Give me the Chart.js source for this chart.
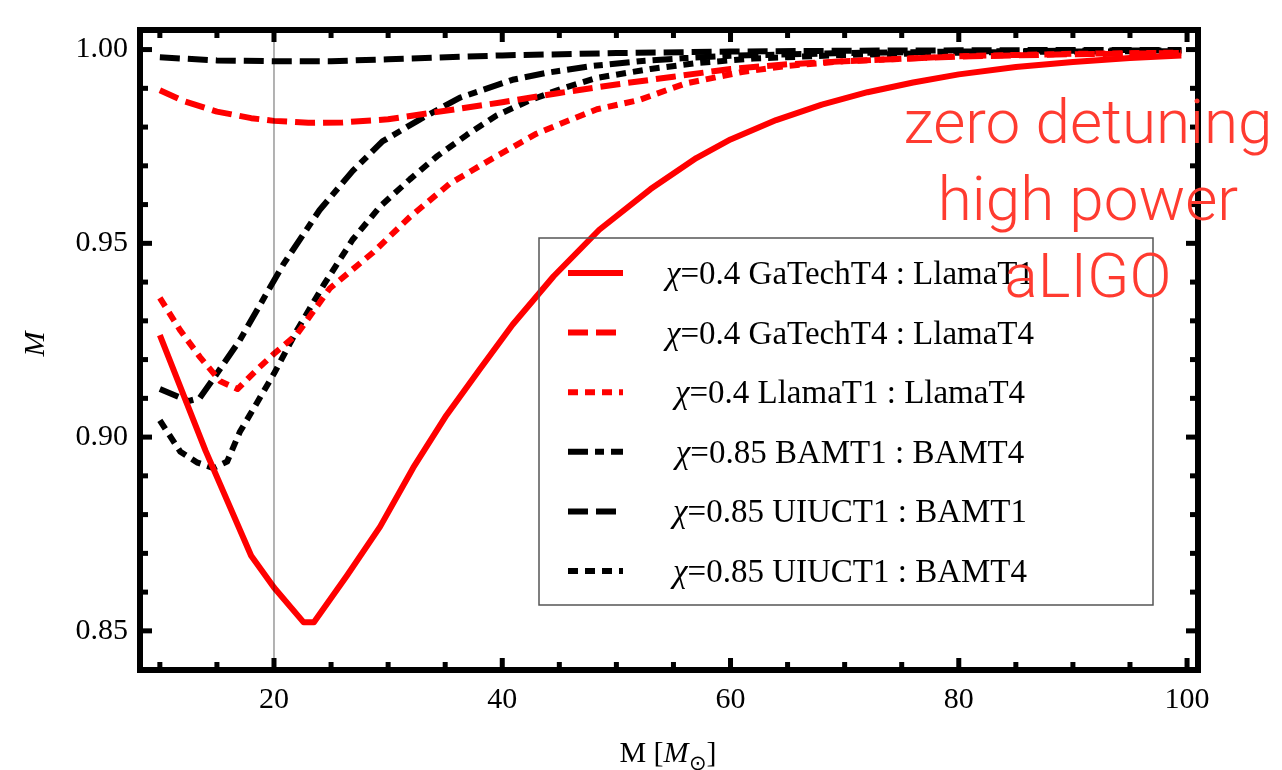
<!DOCTYPE html>
<html>
<head>
<meta charset="utf-8">
<script src="https://cdn.jsdelivr.net/npm/chart.js@4.4.1/dist/chart.umd.min.js"></script>
<style>
  html, body { margin: 0; padding: 0; background: #fff; }
</style>
</head>
<body>
<canvas id="chart-match" width="1282" height="770"></canvas>
<script>
// Match vs total mass for the approximant pairs
const spins = ['0.4', '0.4', '0.4', '0.85', '0.85', '0.85'];
const pairs = [
    'GaTechT4 : LlamaT1',
    'GaTechT4 : LlamaT4',
    'LlamaT1 : LlamaT4',
    'BAMT1 : BAMT4',
    'UIUCT1 : BAMT1',
    'UIUCT1 : BAMT4',
];

const gtL1Mass = [10, 14, 18, 20, 22.6, 23.5, 26.4, 29.3, 32.2, 35.1, 38, 40.9, 44.5, 48.5, 53, 57, 60, 64, 68, 72, 76, 80, 85, 90, 95, 99.5];
const gtL1Match = [0.9263, 0.8965, 0.8694, 0.8612, 0.8522, 0.8522, 0.8643, 0.8769, 0.8921, 0.9056, 0.9174, 0.929, 0.9415, 0.9535, 0.964, 0.972, 0.9768, 0.9818, 0.9858, 0.989, 0.9915, 0.9936, 0.9955, 0.9968, 0.9978, 0.9985];

const gtL4Mass = [10, 12, 15, 18, 20, 23, 26, 30, 35, 40, 45, 50, 55, 60, 65, 70, 80, 90, 99.5];
const gtL4Match = [0.9895, 0.9868, 0.984, 0.9823, 0.9816, 0.9811, 0.9812, 0.982, 0.9842, 0.9864, 0.9888, 0.991, 0.993, 0.995, 0.9962, 0.997, 0.9982, 0.9988, 0.9991];

const l1L4Mass = [10, 11.8, 13.5, 15.3, 16.8, 18.5, 20, 22, 24.9, 28.7, 31.9, 35.4, 39.2, 43, 45.9, 48.3, 52, 56, 61, 65, 70, 80, 90, 99.5];
const l1L4Match = [0.9359, 0.9275, 0.9207, 0.9144, 0.9124, 0.9174, 0.9215, 0.9265, 0.9384, 0.9477, 0.9568, 0.9654, 0.972, 0.9783, 0.9818, 0.9846, 0.987, 0.9912, 0.9942, 0.9958, 0.997, 0.9983, 0.9989, 0.9992];

const bamMass = [10, 12.5, 13.5, 15, 17, 20.8, 24, 26.9, 29.5, 32.8, 36.3, 40.9, 43.9, 48, 52, 56, 60, 70, 80, 90, 99.5];
const bamMatch = [0.9124, 0.9093, 0.9101, 0.9164, 0.925, 0.9445, 0.9586, 0.9687, 0.9763, 0.982, 0.9876, 0.9922, 0.994, 0.9958, 0.997, 0.9978, 0.9984, 0.9991, 0.9995, 0.9997, 0.9998];

const uiucT1Mass = [10, 15, 20, 25, 30, 40, 50, 60, 70, 80, 90, 99.5];
const uiucT1Match = [0.998, 0.9972, 0.997, 0.997, 0.9975, 0.9985, 0.9991, 0.9995, 0.9997, 0.9998, 0.9999, 0.9999];

const uiucT4Mass = [10, 11.8, 13.3, 14.7, 15.9, 17, 18.5, 20, 22, 24.3, 26.9, 29.3, 31.9, 34.3, 36.9, 39.5, 42.4, 45.3, 48.3, 53, 57, 62, 70, 80, 90, 99.5];
const uiucT4Match = [0.9043, 0.8962, 0.8934, 0.892, 0.8937, 0.9013, 0.9088, 0.9164, 0.9275, 0.939, 0.951, 0.9595, 0.9665, 0.9725, 0.978, 0.983, 0.9869, 0.99, 0.9927, 0.995, 0.9965, 0.9977, 0.9986, 0.9992, 0.9995, 0.9996];

const xTicks = [20, 40, 60, 80, 100];
const yTicks = [0.85, 0.90, 0.95, 1.00];
const refMass = 20;
const noteLines = ['zero detuning', 'high power', 'aLIGO'];

const SERIF = '"Liberation Serif", "Times New Roman", serif';
const RED = '#ff0000';

const series = [
    { mass: gtL1Mass, match: gtL1Match, color: RED, dash: [] },
    { mass: gtL4Mass, match: gtL4Match, color: RED, dash: [20, 8] },
    { mass: l1L4Mass, match: l1L4Match, color: RED, dash: [10, 7] },
    { mass: bamMass, match: bamMatch, color: '#000', dash: [20, 7, 9, 7] },
    { mass: uiucT1Mass, match: uiucT1Match, color: '#000', dash: [20, 8] },
    { mass: uiucT4Mass, match: uiucT4Match, color: '#000', dash: [10, 7] },
];

const datasets = series.map((s, i) => ({
    label: 'χ=' + spins[i] + ' ' + pairs[i],
    data: s.mass.map((m, k) => ({ x: m, y: s.match[k] })),
    borderColor: s.color,
    borderDash: s.dash,
    borderWidth: 6,
    borderCapStyle: 'butt',
    borderJoinStyle: 'round',
    pointRadius: 0,
    tension: 0,
    fill: false,
}));

// Mathematica-style frame: thick box, inward ticks on all four sides
const framePlugin = {
    id: 'frame',
    afterDatasetsDraw(chart) {
        const { ctx, chartArea: a, scales: { x, y } } = chart;
        ctx.save();

        // reference mass line
        const rx = x.getPixelForValue(refMass);
        ctx.strokeStyle = 'rgba(0,0,0,0.5)';
        ctx.lineWidth = 1.2;
        ctx.beginPath();
        ctx.moveTo(rx, a.top);
        ctx.lineTo(rx, a.bottom);
        ctx.stroke();

        ctx.fillStyle = '#000';
        for (let m = 10; m <= 100; m += 5) {
            const px = x.getPixelForValue(m);
            const len = xTicks.includes(m) ? 12 : 8;
            ctx.fillRect(px - 2.5, a.bottom - len, 5, len);
            ctx.fillRect(px - 2.5, a.top, 5, len);
        }
        for (let k = 84; k <= 100; k++) {
            const v = k / 100;
            const py = y.getPixelForValue(v);
            const len = k % 5 === 0 ? 12 : 8;
            ctx.fillRect(a.left, py - 2.5, len, 5);
            ctx.fillRect(a.right - len, py - 2.5, len, 5);
        }

        ctx.strokeStyle = '#000';
        ctx.lineWidth = 6;
        ctx.strokeRect(a.left, a.top, a.right - a.left, a.bottom - a.top);
        ctx.restore();
    },
};

// Boxed legend with centred labels
const legendPlugin = {
    id: 'boxLegend',
    afterDraw(chart) {
        const { ctx } = chart;
        const box = { left: 539, top: 238, right: 1153, bottom: 605 };
        ctx.save();
        ctx.strokeStyle = '#555';
        ctx.lineWidth = 1.5;
        ctx.strokeRect(box.left, box.top, box.right - box.left, box.bottom - box.top);

        chart.data.datasets.forEach((ds, i) => {
            const cy = 273 + i * 59.6;
            ctx.strokeStyle = ds.borderColor;
            ctx.lineWidth = 6;
            ctx.lineCap = 'butt';
            ctx.setLineDash(ds.borderDash);
            ctx.beginPath();
            ctx.moveTo(568, cy);
            ctx.lineTo(623, cy);
            ctx.stroke();
            ctx.setLineDash([]);

            const chi = 'χ';
            const rest = '=' + spins[i] + ' ' + pairs[i];
            ctx.fillStyle = '#000';
            ctx.textBaseline = 'alphabetic';
            ctx.font = 'italic 33px ' + SERIF;
            const wChi = ctx.measureText(chi).width;
            ctx.font = '33px ' + SERIF;
            const wRest = ctx.measureText(rest).width;
            const tx = 850 - (wChi + wRest) / 2;
            ctx.font = 'italic 33px ' + SERIF;
            ctx.fillText(chi, tx, cy + 11);
            ctx.font = '33px ' + SERIF;
            ctx.fillText(rest, tx + wChi, cy + 11);
        });
        ctx.restore();
    },
};

// Axis titles and the red note
const labelPlugin = {
    id: 'labels',
    afterDraw(chart) {
        const { ctx } = chart;
        ctx.save();
        ctx.fillStyle = '#000';
        ctx.textBaseline = 'middle';
        ctx.textAlign = 'center';
        ctx.translate(36, 344);
        ctx.rotate(-Math.PI / 2);
        ctx.font = 'italic 30px ' + SERIF;
        ctx.fillText('M', 0, 0);
        ctx.restore();

        ctx.save();
        ctx.fillStyle = '#000';
        ctx.textBaseline = 'alphabetic';
        const parts = [
            { t: 'M [', f: '30px ' + SERIF, dy: 0 },
            { t: 'M', f: 'italic 30px ' + SERIF, dy: 0 },
            { t: '⊙', f: '21px ' + SERIF, dy: 8 },
            { t: ']', f: '30px ' + SERIF, dy: 0 },
        ];
        let total = 0;
        parts.forEach(p => { ctx.font = p.f; p.w = ctx.measureText(p.t).width; total += p.w; });
        let tx = 668 - total / 2;
        parts.forEach(p => {
            ctx.font = p.f;
            ctx.fillText(p.t, tx, 762 + p.dy);
            tx += p.w;
        });
        ctx.restore();

        ctx.save();
        ctx.fillStyle = '#ff3b30';
        ctx.textAlign = 'center';
        ctx.textBaseline = 'alphabetic';
        ctx.font = '300 62px Roboto, "Liberation Sans", sans-serif';
        noteLines.forEach((line, i) => {
            ctx.fillText(line, 1088, 143 + i * 77);
        });
        ctx.restore();
    },
};

const ctx = document.getElementById('chart-match').getContext('2d');
new Chart(ctx, {
    type: 'line',
    data: { datasets },
    options: {
        responsive: false,
        devicePixelRatio: 1,
        animation: false,
        layout: { padding: { top: 16, right: 84, left: 0, bottom: 0 } },
        plugins: { legend: { display: false }, tooltip: { enabled: false } },
        scales: {
            x: {
                type: 'linear',
                min: 8.26,
                max: 100.96,
                grid: { display: false, drawTicks: false },
                border: { display: false },
                ticks: {
                    color: '#000',
                    font: { family: SERIF, size: 30 },
                    padding: 12,
                    maxRotation: 0,
                },
                afterBuildTicks(scale) { scale.ticks = xTicks.map(v => ({ value: v })); },
                afterFit(scale) { scale.height = 100; },
            },
            y: {
                type: 'linear',
                min: 0.8399,
                max: 1.00505,
                grid: { display: false, drawTicks: false },
                border: { display: false },
                ticks: {
                    color: '#000',
                    font: { family: SERIF, size: 30 },
                    padding: 12,
                    callback: v => v.toFixed(2),
                },
                afterBuildTicks(scale) { scale.ticks = yTicks.map(v => ({ value: v })); },
                afterFit(scale) { scale.width = 140; },
            },
        },
    },
    plugins: [framePlugin, legendPlugin, labelPlugin],
});
</script>
</body>
</html>
